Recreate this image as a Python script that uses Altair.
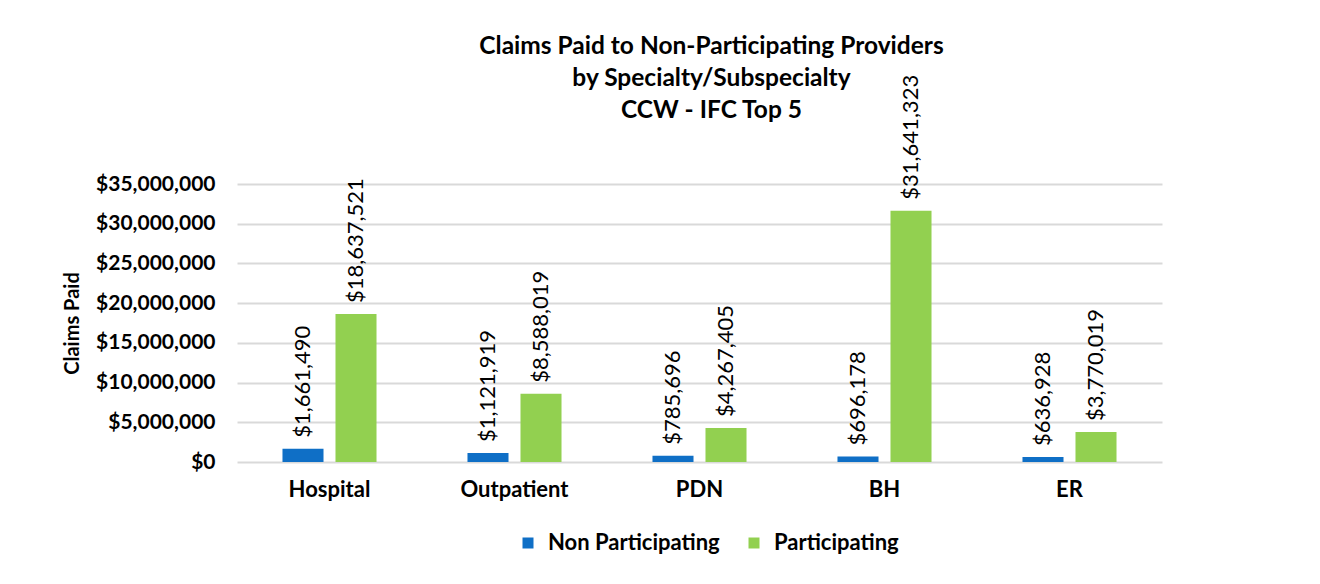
import altair as alt
import pandas as pd

categories = ["Hospital", "Outpatient", "PDN", "BH", "ER"]
non_participating = [1661490, 1121919, 785696, 696178, 636928]
participating = [18637521, 8588019, 4267405, 31641323, 3770019]
series = ["Non Participating", "Participating"]
colors = ["#0F6FC6", "#92D050"]
y_ticks = [0, 5000000, 10000000, 15000000, 20000000, 25000000, 30000000, 35000000]
title_lines = ["Claims Paid to Non-Participating Providers",
               "by Specialty/Subspecialty",
               "CCW - IFC Top 5"]

rows = []
for c, n, p in zip(categories, non_participating, participating):
    rows.append({"Specialty": c, "Type": series[0], "Paid": n})
    rows.append({"Specialty": c, "Type": series[1], "Paid": p})
df = pd.DataFrame(rows)

FONT = "Lato"

x = alt.X("Specialty:N", sort=categories, title=None,
          scale=alt.Scale(paddingInner=0, paddingOuter=0),
          axis=alt.Axis(labelAngle=0, labelFont=FONT, labelFontSize=22,
                        labelFontWeight="bold", labelColor="#000000",
                        ticks=False, domain=False, labelPadding=17, grid=False))
xo = alt.XOffset("Type:N", sort=series,
                 scale=alt.Scale(paddingInner=0.226, paddingOuter=0.858))
y = alt.Y("Paid:Q", title="Claims Paid",
          scale=alt.Scale(domain=[0, 35000000], nice=False),
          axis=alt.Axis(values=y_ticks, tickCount=8, format="$,.0f",
                        labelFont=FONT, labelFontSize=21, labelFontWeight="bold",
                        labelColor="#000000", labelPadding=22, ticks=False, domain=False,
                        labelOverlap=False,
                        gridColor="#D9D9D9", gridWidth=2,
                        titleFont=FONT, titleFontSize=20, titleFontWeight="bold",
                        titleColor="#000000", titleX=-155))

base = alt.Chart(df).encode(x=x, xOffset=xo, y=y)

bars = base.mark_bar().encode(
    color=alt.Color("Type:N", sort=series,
                    scale=alt.Scale(domain=series, range=colors),
                    legend=alt.Legend(title=None, orient="none", direction="horizontal",
                                      legendX=280, legendY=348,
                                      symbolType="square", symbolSize=121,
                                      symbolStrokeWidth=0, labelLimit=400,
                                      labelFont=FONT, labelFontSize=22,
                                      labelFontWeight="bold", labelColor="#000000",
                                      labelOffset=9, columnPadding=23, padding=0)),
)

labels = base.mark_text(
    angle=270, align="left", baseline="middle", dx=11,
    font=FONT, fontSize=22, color="#000000"
).encode(
    text=alt.Text("Paid:Q", format="$,.0f"),
)

chart = alt.layer(bars, labels).properties(
    width=925, height=278,
    autosize=alt.AutoSizeParams(type="none"),
    padding={"left": 229, "top": 176, "right": 140, "bottom": 100},
    title=alt.TitleParams(title_lines, font=FONT, fontSize=24.5, fontWeight="bold",
                          color="#000000", lineHeight=32, anchor="middle",
                          frame="group", dx=12, offset=-49),
).configure(
    background="white",
    view=alt.ViewConfig(strokeWidth=0),
)

chart.save("out.html", embed_options={"renderer": "svg", "actions": False})
